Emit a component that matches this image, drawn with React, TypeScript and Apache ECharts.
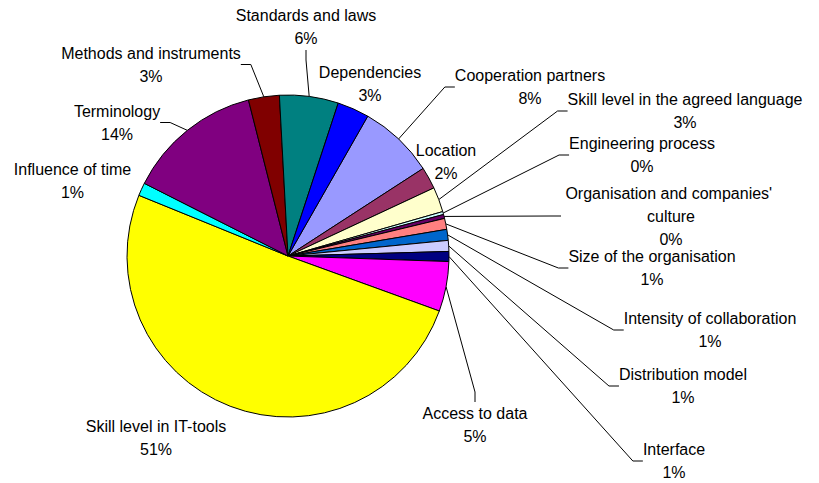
import React, { useEffect, useRef } from "react";
import * as echarts from "echarts";

const categories = [
  "Cooperation partners",
  "Location",
  "Skill level in the agreed language",
  "Engineering process",
  "Organisation and companies' culture",
  "Size of the organisation",
  "Intensity of collaboration",
  "Distribution model",
  "Interface",
  "Access to data",
  "Skill level in IT-tools",
  "Influence of time",
  "Terminology",
  "Methods and instruments",
  "Standards and laws",
  "Dependencies",
];

const values = [7.6, 2.2, 2.5, 0.3, 0.4, 1.1, 1.1, 1.1, 1.0, 5.0, 50.6, 1.3, 13.6, 3.1, 5.9, 3.2];

const colors = [
  "#9999FF", "#993366", "#FFFFCC", "#CCFFFF", "#660066", "#FF8080", "#0066CC", "#CCCCFF",
  "#000080", "#FF00FF", "#FFFF00", "#00FFFF", "#800080", "#800000", "#008080", "#0000FF",
];

const showLeader = [true, false, true, true, true, true, true, true, true, true, false, false, true, true, true, false];

const labelCenters: [number, number][] = [
  [530, 87], [446, 161.5], [685, 111], [642, 155], [671, 216], [652, 268], [710, 330], [683, 386],
  [674, 461], [475, 425], [156, 437.5], [72.5, 181], [117, 122.5], [151, 64.5], [306, 27], [370, 84],
];

export default function App() {
  const ref = useRef<HTMLDivElement>(null);
  useEffect(() => {
    const chart = echarts.init(ref.current!, null, { renderer: "svg" });
    chart.setOption({
      animation: false,
      backgroundColor: "#ffffff",
      series: [
        {
          type: "pie",
          center: [288, 256],
          radius: 161,
          startAngle: 60.3,
          clockwise: true,
          avoidLabelOverlap: false,
          itemStyle: { borderColor: "#000", borderWidth: 1 },
          emphasis: { disabled: true },
          label: {
            show: true,
            position: "outside",
            color: "#000",
            fontSize: 16,
            lineHeight: 23,
            fontFamily: 'Arial, "Liberation Sans", sans-serif',
            formatter: (p: any) => `${p.name}\n${Math.round(p.percent)}%`,
          },
          labelLine: { show: true, length: 10, length2: 10, lineStyle: { color: "#000", width: 1 } },
          labelLayout: (p: any) => {
            const [x, y] = labelCenters[p.dataIndex];
            return { x, y, align: "center", verticalAlign: "middle" };
          },
          data: categories.map((name, i) => ({
            name,
            value: values[i],
            itemStyle: { color: colors[i] },
            labelLine: { show: showLeader[i] },
            label: i === 4 ? { width: 220, overflow: "break" } : {},
          })),
        },
      ],
    });
    return () => chart.dispose();
  }, []);
  return <div ref={ref} style={{ position: "fixed", left: 0, top: 0, width: 819, height: 483 }} />;
}
